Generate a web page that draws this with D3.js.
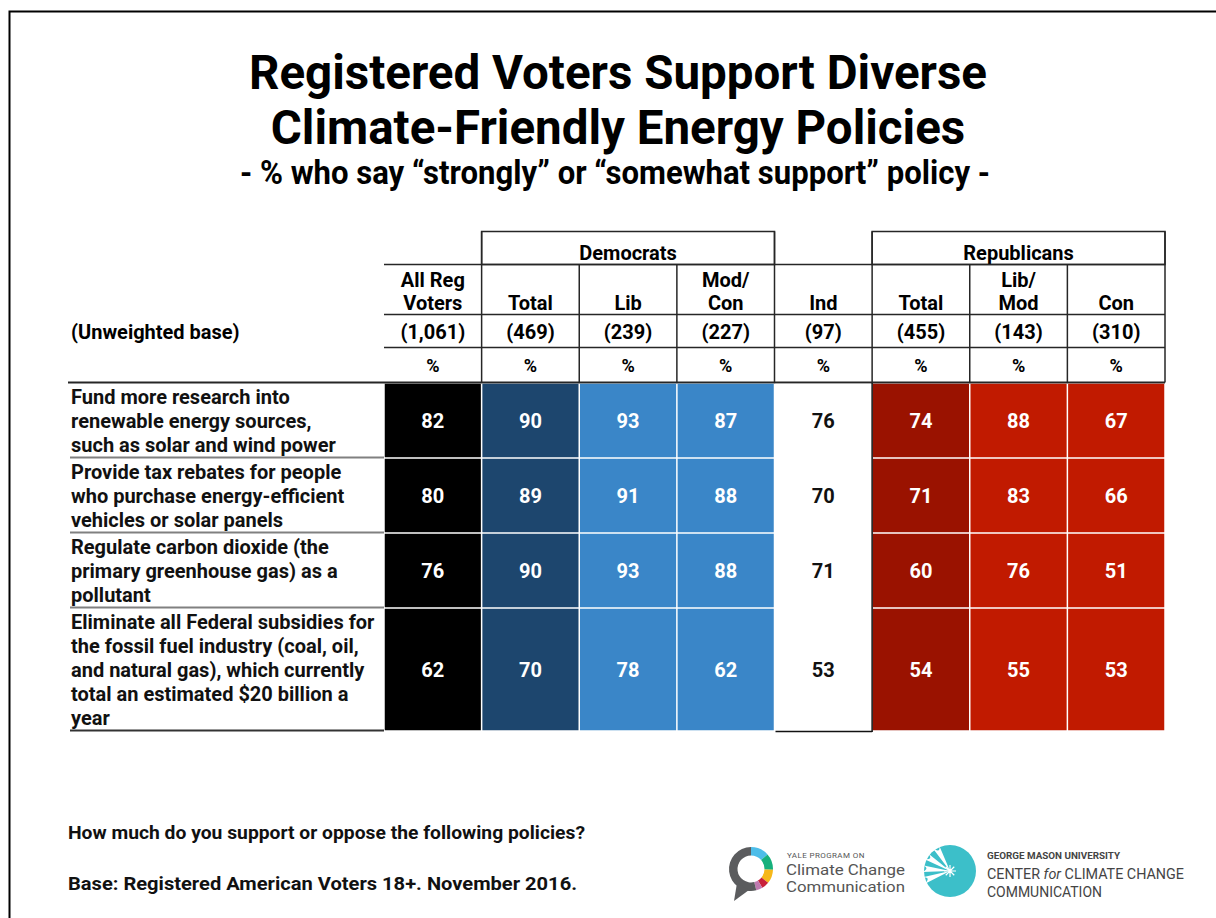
<!DOCTYPE html>
<html><head><meta charset="utf-8">
<script src="https://cdn.jsdelivr.net/npm/d3@7"></script>
<style>
html,body{margin:0;padding:0;background:#fff;}
svg{display:block;font-family:Roboto,"Noto Sans",sans-serif;}
</style></head>
<body>
<svg id="chart" width="1216" height="918"></svg>
<script>
const titleLines = ["Registered Voters Support Diverse", "Climate-Friendly Energy Policies"];
const subtitle = "- % who say \u201Cstrongly\u201D or \u201Csomewhat support\u201D policy -";
const groups = [{name:"Democrats", from:1, to:3}, {name:"Republicans", from:5, to:7}];
const columns = [["All Reg","Voters"],["Total"],["Lib"],["Mod/","Con"],["Ind"],["Total"],["Lib/","Mod"],["Con"]];
const bases = ["(1,061)","(469)","(239)","(227)","(97)","(455)","(143)","(310)"];
const policies = [
  ["Fund more research into","renewable energy sources,","such as solar and wind power"],
  ["Provide tax rebates for people","who purchase energy-efficient","vehicles or solar panels"],
  ["Regulate carbon dioxide (the","primary greenhouse gas) as a","pollutant"],
  ["Eliminate all Federal subsidies for","the fossil fuel industry (coal, oil,","and natural gas), which currently","total an estimated $20 billion a","year"]
];
const allReg  = [82, 80, 76, 62];
const demTot  = [90, 89, 90, 70];
const demLib  = [93, 91, 93, 78];
const demMod  = [87, 88, 88, 62];
const ind     = [76, 70, 71, 53];
const repTot  = [74, 71, 60, 54];
const repLib  = [88, 83, 76, 55];
const repCon  = [67, 66, 51, 53];
const series = [allReg, demTot, demLib, demMod, ind, repTot, repLib, repCon];
const colColors = ["#000000","#1d466e","#3a86c8","#3a86c8","#ffffff","#9a1200","#c11a00","#c11a00"];
const notes = ["How much do you support or oppose the following policies?", "Base: Registered American Voters 18+. November 2016."];
const noteWidths = [517, 509];

const svg = d3.select("#chart");

// frame
svg.append("rect").attr("x",9.5).attr("y",11.5).attr("width",1240).attr("height",940)
  .attr("fill","none").attr("stroke","#000").attr("stroke-width",2);

// title
svg.selectAll("text.title").data(titleLines).join("text").attr("class","title")
  .attr("x",618).attr("y",(d,i)=>89+i*55).attr("text-anchor","middle")
  .attr("font-size",47.5).attr("font-weight",700).attr("fill","#000").text(d=>d);
svg.append("text").attr("x",615).attr("y",184).attr("text-anchor","middle")
  .attr("font-size",33).attr("font-weight",700).attr("fill","#000")
  .attr("textLength",750).attr("lengthAdjust","spacingAndGlyphs").text(subtitle);

// scales
const x = d3.scaleBand().domain(d3.range(columns.length)).range([384,1165]).padding(0);
const lineH = 24;
const rowHeights = policies.map(p => p.length*lineH + 3);
const bodyTop = 383;
const rowTops = [];
let acc = bodyTop;
rowHeights.forEach(h => { rowTops.push(acc); acc += h; });
const bodyBottom = acc;
const y = d3.scaleOrdinal().domain(d3.range(policies.length)).range(rowTops);

const fs = 20;
const lineCol = "#262626";
const hdr = svg.append("g");
// group boxes
groups.forEach(g => {
  const x0 = x(g.from), x1 = x(g.to)+x.bandwidth();
  hdr.append("rect").attr("x",x0).attr("y",231.5).attr("width",x1-x0).attr("height",33)
    .attr("fill","none").attr("stroke",lineCol).attr("stroke-width",1.5);
  hdr.append("text").attr("x",(x0+x1)/2).attr("y",260).attr("text-anchor","middle")
    .attr("font-size",fs).attr("font-weight",700).text(g.name);
});
// horizontal header lines
[264.5, 314.5, 347.5].forEach(yy => {
  hdr.append("line").attr("x1",384).attr("x2",1165).attr("y1",yy).attr("y2",yy)
    .attr("stroke",lineCol).attr("stroke-width",1.5);
});
hdr.append("line").attr("x1",68).attr("x2",1165).attr("y1",382.5).attr("y2",382.5)
  .attr("stroke",lineCol).attr("stroke-width",2);
// vertical header lines
const vlines = [];
for (let i=1;i<=columns.length;i++){
  const xx = i===columns.length ? 1165 : x(i);
  const top = (i===1||i===4||i===5||i===8) ? 231.5 : 264.5;
  vlines.push({xx, top});
}
hdr.selectAll("line.v").data(vlines).join("line").attr("class","v")
  .attr("x1",d=>d.xx).attr("x2",d=>d.xx).attr("y1",d=>d.top).attr("y2",382.5)
  .attr("stroke",lineCol).attr("stroke-width",1.5);
// column labels
columns.forEach((c,i) => {
  const cx = x(i)+x.bandwidth()/2;
  c.forEach((t,j) => {
    hdr.append("text").attr("x",cx).attr("y",310 - (c.length-1-j)*23)
      .attr("text-anchor","middle").attr("font-size",fs).attr("font-weight",700).text(t);
  });
  hdr.append("text").attr("x",cx).attr("y",339).attr("text-anchor","middle")
    .attr("font-size",fs).attr("font-weight",700).text(bases[i]);
  hdr.append("text").attr("x",cx).attr("y",372).attr("text-anchor","middle")
    .attr("font-size",18).attr("font-weight",700).text("%");
});
hdr.append("text").attr("x",71).attr("y",339).attr("font-size",fs).attr("font-weight",700).text("(Unweighted base)");

// body
const body = svg.append("g");
policies.forEach((p,r) => {
  const top = y(r), h = rowHeights[r];
  body.append("line").attr("x1",70).attr("x2",384).attr("y1",top+h-0.5).attr("y2",top+h-0.5)
    .attr("stroke",r===policies.length-1 ? "#333" : "#808080").attr("stroke-width",2);
  p.forEach((t,j) => {
    body.append("text").attr("x",71).attr("y",top + 21 + j*lineH)
      .attr("font-size",fs).attr("font-weight",700).attr("fill","#111").text(t);
  });
  series.forEach((s,c) => {
    body.append("rect").attr("x",x(c)+0.75).attr("y",top+0.75)
      .attr("width",x.bandwidth()-1.5).attr("height",h-1.5)
      .attr("fill",colColors[c]);
    body.append("text").attr("x",x(c)+x.bandwidth()/2).attr("y",top+h/2+7)
      .attr("text-anchor","middle").attr("font-size",fs).attr("font-weight",700)
      .attr("fill", colColors[c]==="#ffffff" ? "#111" : "#fff").text(s[r]);
  });
});
// Ind column outline
body.append("line").attr("x1",x(5)).attr("x2",x(5)).attr("y1",bodyTop).attr("y2",bodyBottom+1)
  .attr("stroke","#111").attr("stroke-width",1.5);
body.append("line").attr("x1",x(4)+1).attr("x2",x(5)).attr("y1",bodyBottom+0.5).attr("y2",bodyBottom+0.5)
  .attr("stroke","#111").attr("stroke-width",1.5);

// notes
svg.selectAll("text.note").data(notes).join("text").attr("class","note")
  .attr("x",68).attr("y",(d,i)=>839+i*51).attr("font-size",19).attr("font-weight",700)
  .attr("fill","#111").attr("textLength",(d,i)=>noteWidths[i]).attr("lengthAdjust","spacingAndGlyphs")
  .text(d=>d);

// Yale logo
const yl = svg.append("g").attr("transform","translate(751,869)");
const arc = d3.arc().innerRadius(13.5).outerRadius(22);
const segs = [
  {s:0.0, e:0.85, c:"#4dbde9"},
  {s:0.85, e:1.6, c:"#16b07c"},
  {s:1.6, e:2.25, c:"#f6b81a"},
  {s:2.25, e:2.6, c:"#c8203a"},
  {s:2.6, e:2.9, c:"#c07ab0"},
  {s:2.9, e:6.2832, c:"#5b5c5e"}
];
yl.selectAll("path").data(segs).join("path")
  .attr("d",d=>arc({startAngle:d.s,endAngle:d.e})).attr("fill",d=>d.c);
yl.append("path").attr("d","M-14,14 L-17,32 L-2,21 Z").attr("fill","#5b5c5e");
svg.append("text").attr("x",787).attr("y",858).attr("font-size",8).attr("fill","#555").attr("letter-spacing",0.4).text("YALE PROGRAM ON");
svg.append("text").attr("x",786).attr("y",875).attr("font-size",14.5).attr("fill","#555")
  .attr("textLength",119).attr("lengthAdjust","spacingAndGlyphs").text("Climate Change");
svg.append("text").attr("x",786).attr("y",892).attr("font-size",14.5).attr("fill","#555")
  .attr("textLength",119).attr("lengthAdjust","spacingAndGlyphs").text("Communication");

// GMU logo
const gm = svg.append("g").attr("transform","translate(950,871)");
gm.append("circle").attr("r",26).attr("fill","#3cbfc9");
const rays = [160, 185, 212, 240];
gm.selectAll("path.ray").data(rays).join("path").attr("class","ray")
  .attr("d",a=>{
    const r1=28, w=7;
    const a0=(a-w)*Math.PI/180, a1=(a+w)*Math.PI/180, am=(a+3)*Math.PI/180;
    return `M0,0 L${Math.cos(a0)*r1},${Math.sin(a0)*r1} Q${Math.cos(am)*r1*0.7},${Math.sin(am)*r1*0.7} ${Math.cos(a1)*r1},${Math.sin(a1)*r1} Z`;
  }).attr("fill","#fff");
const star = d3.range(8).map(k => {
  const ang = k*Math.PI/4;
  return `M0,0 L${Math.cos(ang)*6},${Math.sin(ang)*6}`;
}).join(" ");
gm.append("path").attr("d",star).attr("stroke","#fff").attr("stroke-width",1.2);
svg.append("text").attr("x",987).attr("y",859).attr("font-size",9.5).attr("font-weight",700).attr("fill","#444")
  .attr("textLength",133).attr("lengthAdjust","spacingAndGlyphs").text("GEORGE MASON UNIVERSITY");
svg.append("text").attr("x",987).attr("y",879).attr("font-size",14.5).attr("fill","#444")
  .attr("textLength",197).attr("lengthAdjust","spacingAndGlyphs")
  .html('CENTER <tspan font-style="italic">for</tspan> CLIMATE CHANGE');
svg.append("text").attr("x",987).attr("y",897).attr("font-size",14.5).attr("fill","#444")
  .attr("textLength",115).attr("lengthAdjust","spacingAndGlyphs").text("COMMUNICATION");
</script>
</body></html>
